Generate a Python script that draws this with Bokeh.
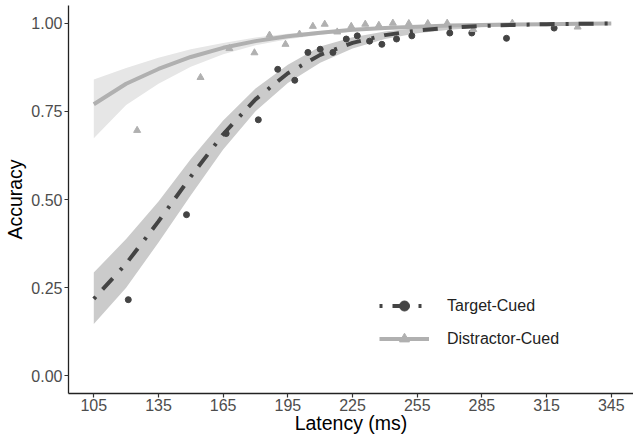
from bokeh.plotting import figure
from bokeh.models import Range1d, FixedTicker, Legend, LegendItem
from bokeh.embed import file_html
from bokeh.resources import INLINE

# fitted curves
curve_latency = [105, 120, 135, 150, 165, 180, 195, 210, 225, 240, 255, 270, 285, 300, 315, 330, 345]
target_fit = [0.218, 0.318, 0.438, 0.565, 0.685, 0.784, 0.858, 0.910, 0.944, 0.966, 0.979, 0.987, 0.992, 0.995, 0.997, 0.998, 0.999]
target_lower = [0.147, 0.250, 0.378, 0.512, 0.642, 0.750, 0.830, 0.888, 0.928, 0.955, 0.971, 0.981, 0.988, 0.992, 0.995, 0.997, 0.998]
target_upper = [0.293, 0.388, 0.494, 0.615, 0.724, 0.815, 0.882, 0.934, 0.960, 0.976, 0.986, 0.992, 0.995, 0.997, 0.998, 0.999, 0.999]
distractor_fit = [0.770, 0.828, 0.870, 0.904, 0.930, 0.949, 0.963, 0.973, 0.981, 0.986, 0.990, 0.993, 0.995, 0.996, 0.997, 0.998, 0.999]
distractor_lower = [0.674, 0.768, 0.828, 0.876, 0.912, 0.937, 0.954, 0.967, 0.976, 0.983, 0.987, 0.991, 0.993, 0.995, 0.996, 0.997, 0.998]
distractor_upper = [0.840, 0.873, 0.902, 0.926, 0.944, 0.959, 0.970, 0.978, 0.985, 0.989, 0.992, 0.995, 0.996, 0.997, 0.998, 0.999, 0.999]

# observed points
target_pts_latency = [121.0, 148.0, 166.4, 181.3, 190.3, 198.2, 204.3, 210.0, 215.9, 222.1, 227.2, 232.9, 238.6, 245.4, 252.5, 270.1, 280.3, 296.4, 318.5]
target_pts_accuracy = [0.216, 0.457, 0.687, 0.726, 0.869, 0.838, 0.917, 0.926, 0.917, 0.955, 0.964, 0.949, 0.940, 0.955, 0.964, 0.972, 0.972, 0.957, 0.986]
distractor_pts_latency = [125.1, 154.5, 167.9, 179.5, 186.5, 193.9, 200.4, 206.6, 212.1, 217.9, 224.4, 230.9, 237.2, 243.7, 251.1, 259.9, 268.9, 281.0, 299.1, 329.4]
distractor_pts_accuracy = [0.696, 0.846, 0.928, 0.916, 0.966, 0.940, 0.969, 0.991, 0.997, 0.975, 0.991, 0.997, 0.994, 1.000, 0.999, 0.999, 1.000, 0.982, 1.000, 0.989]

x_ticks = [105, 135, 165, 195, 225, 255, 285, 315, 345]
y_ticks = [0.0, 0.25, 0.5, 0.75, 1.0]
y_tick_labels = ["0.00", "0.25", "0.50", "0.75", "1.00"]

series_labels = ["Target-Cued", "Distractor-Cued"]

FONT = "Liberation Sans"
DARK = "#444444"
LIGHT = "#b0b0b0"

p = figure(width=633, height=438, output_backend="svg", toolbar_location=None,
           x_range=Range1d(93.27, 355.3), y_range=Range1d(-0.05, 1.05),
           min_border_left=68, min_border_right=0, min_border_top=5, min_border_bottom=45)
p.outline_line_color = None
p.grid.visible = False
p.background_fill_color = "white"
p.border_fill_color = "white"

p.varea(x=curve_latency, y1=distractor_lower, y2=distractor_upper, fill_color="#e6e6e6")
p.varea(x=curve_latency, y1=target_lower, y2=target_upper, fill_color="#cbcbcb")

t_pts = p.scatter(target_pts_latency, target_pts_accuracy, marker="circle", size=6,
                  fill_color=DARK, line_color=DARK)
d_pts = p.scatter(distractor_pts_latency, distractor_pts_accuracy, marker="triangle", size=7,
                  fill_color=LIGHT, line_color=LIGHT)

d_line = p.line(curve_latency, distractor_fit, line_color=LIGHT, line_width=4)
t_line = p.line(curve_latency, target_fit, line_color=DARK, line_width=4, line_dash="3 10 15 11")

for ax in (p.xaxis[0], p.yaxis[0]):
    ax.axis_line_color = "#222222"
    ax.axis_line_width = 1.3
    ax.major_tick_line_color = "#333333"
    ax.major_tick_line_width = 1.2
    ax.major_tick_out = 4
    ax.major_tick_in = 0
    ax.minor_tick_line_color = None
    ax.major_label_text_font = FONT
    ax.major_label_text_font_size = "16px"
    ax.major_label_text_color = "#4d4d4d"
    ax.axis_label_text_font = FONT
    ax.axis_label_text_font_size = "19.5px"
    ax.axis_label_text_font_style = "normal"
    ax.axis_label_text_color = "black"

p.xaxis[0].ticker = FixedTicker(ticks=x_ticks)
p.xaxis[0].major_label_standoff = 1
p.xaxis[0].axis_label = "Latency (ms)"
p.xaxis[0].axis_label_standoff = -2
p.yaxis[0].ticker = FixedTicker(ticks=y_ticks)
p.yaxis[0].major_label_overrides = {t: s for t, s in zip(y_ticks, y_tick_labels)}
p.yaxis[0].major_label_standoff = 2
p.yaxis[0].axis_label = "Accuracy"
p.yaxis[0].axis_label_standoff = 2

legend = Legend(items=[LegendItem(label=series_labels[0], renderers=[t_line, t_pts]),
                       LegendItem(label=series_labels[1], renderers=[d_line, d_pts])],
                location=(301, 32), glyph_width=50, glyph_height=25, label_standoff=18,
                spacing=8, padding=10, margin=0, label_text_font=FONT,
                label_text_font_size="16px", label_text_color="#222222",
                background_fill_alpha=0, border_line_alpha=0)
p.add_layout(legend)

open("out.html", "w").write(file_html(p, INLINE))
